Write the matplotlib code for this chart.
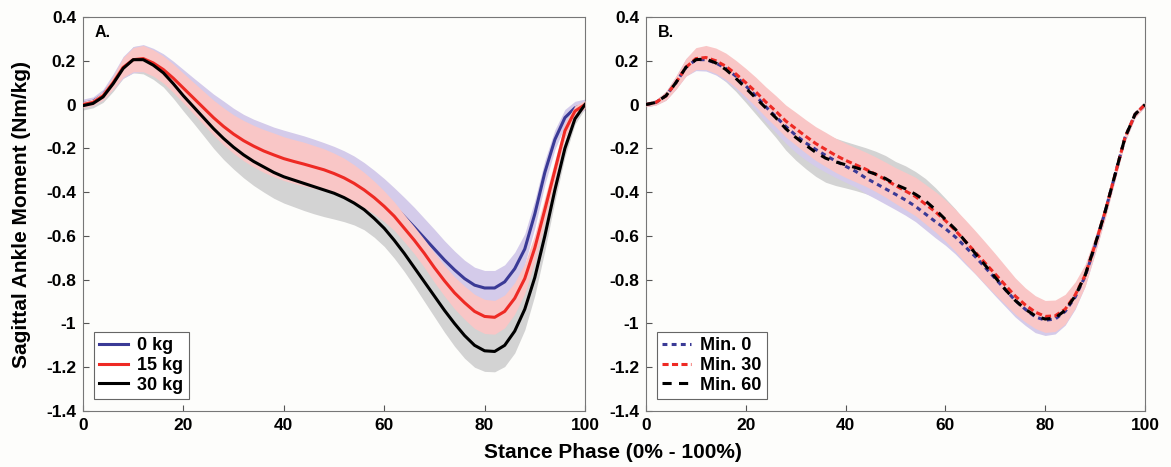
import numpy as np
import matplotlib
matplotlib.use("Agg")
import matplotlib.pyplot as plt
from matplotlib.lines import Line2D

plt.rcParams['font.family'] = ['Liberation Sans', 'DejaVu Sans']
plt.rcParams['font.weight'] = 'bold'

# ---- data ----
stance = list(range(0, 101, 2))

# Panel A: load conditions (mean)
kg0_mean = [0.005, 0.015, 0.045, 0.105, 0.17, 0.205, 0.212, 0.195, 0.17, 0.135,
            0.095, 0.055, 0.015, -0.025, -0.06, -0.095, -0.125, -0.15, -0.17, -0.19,
            -0.205, -0.218, -0.23, -0.243, -0.257, -0.273, -0.292, -0.315, -0.345, -0.38,
            -0.42, -0.465, -0.512, -0.56, -0.61, -0.66, -0.71, -0.755, -0.795, -0.825,
            -0.838, -0.838, -0.81, -0.75, -0.66, -0.5, -0.31, -0.16, -0.06, -0.015, 0.0]
kg15_mean = [0.0, 0.01, 0.04, 0.1, 0.17, 0.205, 0.21, 0.19, 0.16, 0.12,
             0.075, 0.03, -0.015, -0.06, -0.1, -0.135, -0.165, -0.19, -0.212, -0.23,
             -0.247, -0.26, -0.272, -0.285, -0.298, -0.315, -0.335, -0.36, -0.39, -0.425,
             -0.465, -0.51, -0.565, -0.62, -0.68, -0.745, -0.805, -0.86, -0.905, -0.945,
             -0.968, -0.972, -0.945, -0.885, -0.795, -0.655, -0.48, -0.3, -0.12, -0.03, 0.0]
kg30_mean = [-0.005, 0.005, 0.035, 0.095, 0.165, 0.205, 0.205, 0.18, 0.145, 0.095,
             0.04, -0.01, -0.06, -0.11, -0.155, -0.195, -0.23, -0.26, -0.285, -0.31,
             -0.33, -0.345, -0.36, -0.375, -0.39, -0.405, -0.425, -0.45, -0.48, -0.52,
             -0.565, -0.62, -0.68, -0.745, -0.81, -0.875, -0.94, -1.0, -1.055, -1.1,
             -1.125, -1.128, -1.1, -1.035, -0.935, -0.79, -0.6, -0.39, -0.2, -0.065, 0.0]
kg0_sd = [0.02, 0.02, 0.025, 0.035, 0.05, 0.06, 0.062, 0.062, 0.062, 0.063,
          0.065, 0.067, 0.07, 0.073, 0.076, 0.078, 0.08, 0.083, 0.085, 0.087,
          0.088, 0.088, 0.087, 0.085, 0.083, 0.082, 0.081, 0.08, 0.08, 0.08,
          0.082, 0.085, 0.088, 0.09, 0.09, 0.09, 0.088, 0.086, 0.084, 0.082,
          0.08, 0.08, 0.078, 0.075, 0.07, 0.063, 0.055, 0.045, 0.038, 0.03, 0.025]
kg15_sd = [0.015, 0.015, 0.02, 0.03, 0.045, 0.055, 0.06, 0.06, 0.062, 0.065,
           0.068, 0.072, 0.076, 0.08, 0.085, 0.088, 0.092, 0.095, 0.098, 0.1,
           0.1, 0.1, 0.1, 0.098, 0.096, 0.093, 0.09, 0.085, 0.08, 0.075,
           0.07, 0.065, 0.062, 0.062, 0.064, 0.067, 0.07, 0.073, 0.076, 0.078,
           0.078, 0.077, 0.075, 0.072, 0.068, 0.062, 0.055, 0.045, 0.035, 0.025, 0.018]
kg30_sd = [0.02, 0.02, 0.025, 0.035, 0.045, 0.06, 0.065, 0.065, 0.065, 0.067,
           0.07, 0.075, 0.082, 0.09, 0.096, 0.1, 0.105, 0.11, 0.115, 0.118,
           0.12, 0.122, 0.124, 0.124, 0.122, 0.118, 0.11, 0.1, 0.092, 0.086,
           0.083, 0.082, 0.083, 0.085, 0.09, 0.095, 0.1, 0.104, 0.104, 0.1,
           0.094, 0.093, 0.097, 0.1, 0.095, 0.082, 0.068, 0.052, 0.038, 0.025, 0.018]

# Panel B: time conditions (mean)
min0_mean = [0.0, 0.01, 0.04, 0.1, 0.17, 0.205, 0.205, 0.19, 0.165, 0.13,
             0.085, 0.04, -0.01, -0.055, -0.1, -0.14, -0.175, -0.205, -0.232, -0.258,
             -0.282, -0.305, -0.335, -0.36, -0.385, -0.41, -0.436, -0.465, -0.5, -0.535,
             -0.567, -0.605, -0.65, -0.695, -0.745, -0.795, -0.845, -0.895, -0.935, -0.97,
             -0.985, -0.98, -0.945, -0.88, -0.785, -0.645, -0.49, -0.32, -0.15, -0.045, 0.0]
min30_mean = [0.0, 0.01, 0.04, 0.1, 0.17, 0.21, 0.215, 0.2, 0.175, 0.14,
              0.1, 0.058, 0.012, -0.03, -0.075, -0.11, -0.145, -0.178, -0.205, -0.232,
              -0.255, -0.275, -0.295, -0.318, -0.343, -0.37, -0.395, -0.42, -0.455, -0.49,
              -0.53, -0.575, -0.625, -0.675, -0.725, -0.775, -0.825, -0.875, -0.915, -0.948,
              -0.968, -0.965, -0.935, -0.87, -0.78, -0.64, -0.49, -0.32, -0.15, -0.045, 0.0]
min60_mean = [0.0, 0.01, 0.04, 0.1, 0.17, 0.205, 0.208, 0.19, 0.16, 0.12,
              0.075, 0.03, -0.015, -0.06, -0.11, -0.15, -0.185, -0.218, -0.245, -0.262,
              -0.275, -0.288, -0.302, -0.318, -0.338, -0.365, -0.385, -0.41, -0.44, -0.48,
              -0.525, -0.57, -0.625, -0.68, -0.735, -0.79, -0.845, -0.895, -0.935, -0.965,
              -0.98, -0.975, -0.94, -0.875, -0.78, -0.64, -0.49, -0.32, -0.15, -0.045, 0.0]
min0_sd = [0.01, 0.012, 0.02, 0.03, 0.04, 0.05, 0.052, 0.055, 0.058, 0.06,
           0.063, 0.066, 0.07, 0.073, 0.076, 0.078, 0.078, 0.078, 0.077, 0.075,
           0.073, 0.072, 0.071, 0.07, 0.07, 0.07, 0.07, 0.07, 0.072, 0.074,
           0.076, 0.078, 0.08, 0.08, 0.08, 0.08, 0.078, 0.076, 0.074, 0.072,
           0.07, 0.068, 0.063, 0.055, 0.045, 0.036, 0.03, 0.025, 0.02, 0.015, 0.01]
min30_sd = [0.01, 0.012, 0.02, 0.03, 0.04, 0.05, 0.055, 0.058, 0.06, 0.062,
            0.065, 0.067, 0.069, 0.071, 0.073, 0.075, 0.076, 0.077, 0.078, 0.078,
            0.078, 0.078, 0.078, 0.079, 0.08, 0.082, 0.085, 0.088, 0.09, 0.092,
            0.094, 0.096, 0.098, 0.098, 0.096, 0.093, 0.088, 0.083, 0.078, 0.075,
            0.073, 0.072, 0.068, 0.06, 0.05, 0.04, 0.032, 0.026, 0.02, 0.015, 0.01]
min60_sd = [0.01, 0.012, 0.02, 0.028, 0.036, 0.042, 0.048, 0.052, 0.056, 0.06,
            0.066, 0.074, 0.082, 0.09, 0.098, 0.104, 0.108, 0.11, 0.11, 0.108,
            0.106, 0.105, 0.105, 0.105, 0.105, 0.105, 0.105, 0.104, 0.102, 0.1,
            0.097, 0.093, 0.088, 0.083, 0.078, 0.073, 0.068, 0.064, 0.06, 0.057,
            0.055, 0.053, 0.05, 0.045, 0.038, 0.032, 0.027, 0.022, 0.018, 0.014, 0.01]

legend_a = ['0 kg', '15 kg', '30 kg']
legend_b = ['Min. 0', 'Min. 30', 'Min. 60']
xticks = [0, 20, 40, 60, 80, 100]
yticks = [0.4, 0.2, 0, -0.2, -0.4, -0.6, -0.8, -1, -1.2, -1.4]
ytick_labels = ['0.4', '0.2', '0', '-0.2', '-0.4', '-0.6', '-0.8', '-1', '-1.2', '-1.4']

for arr in (kg0_mean, kg15_mean, kg30_mean, kg0_sd, kg15_sd, kg30_sd,
            min0_mean, min30_mean, min60_mean, min0_sd, min30_sd, min60_sd):
    assert len(arr) == len(stance), len(arr)

# ---- styles ----
BLUE = '#3a3a96'
RED = '#ee2a24'
BLACK = '#000000'
PURPLE_BAND = '#d4cbea'
PINK_BAND = '#f9c6c6'
GRAY_BAND = '#d3d3d3'
BG = '#fdfdfb'

x = np.array(stance)

fig = plt.figure(figsize=(11.71, 4.67), dpi=100, facecolor=BG)
axA = fig.add_axes([83 / 1171, 56 / 467, 502 / 1171, 394 / 467], facecolor=BG)
axB = fig.add_axes([646 / 1171, 56 / 467, 499 / 1171, 394 / 467], facecolor=BG)


def band(ax, m, s, color, z):
    m = np.array(m); s = np.array(s)
    ax.fill_between(x, m - s, m + s, color=color, lw=0, zorder=z)


# Panel A
band(axA, kg30_mean, kg30_sd, GRAY_BAND, 1)
band(axA, kg0_mean, kg0_sd, PURPLE_BAND, 2)
axA.plot(x, kg0_mean, color=BLUE, lw=2.2, zorder=3)
band(axA, kg15_mean, kg15_sd, PINK_BAND, 4)
axA.plot(x, kg15_mean, color=RED, lw=2.2, zorder=5)
axA.plot(x, kg30_mean, color=BLACK, lw=2.2, zorder=6)

# Panel B
band(axB, min60_mean, min60_sd, GRAY_BAND, 1)
band(axB, min0_mean, min0_sd, PURPLE_BAND, 2)
band(axB, min30_mean, min30_sd, PINK_BAND, 3)
dash0 = (0, (1.6, 1.4))
dash30 = (0, (2.0, 1.1))
dash60 = (0, (3.0, 2.4))
axB.plot(x, min0_mean, color=BLUE, lw=2.2, ls=dash0, zorder=4)
axB.plot(x, min30_mean, color=RED, lw=2.2, ls=dash30, zorder=5)
axB.plot(x, min60_mean, color=BLACK, lw=2.2, ls=dash60, zorder=6)

for ax, lab in ((axA, 'A.'), (axB, 'B.')):
    ax.set_xlim(0, 100)
    ax.set_ylim(-1.4, 0.4)
    ax.set_xticks(xticks)
    ax.set_xticklabels([str(t) for t in xticks], fontsize=12.5, fontweight='bold')
    ax.set_yticks(yticks)
    ax.set_yticklabels(ytick_labels, fontsize=12.5, fontweight='bold')
    ax.tick_params(direction='in', length=4, width=0.8, color='#555555', pad=5)
    for sp in ax.spines.values():
        sp.set_color('#777777')
        sp.set_linewidth(0.8)
    ax.text(0.023, 0.98, lab, transform=ax.transAxes, fontsize=11.5, fontweight='bold',
            ha='left', va='top')

hA = [Line2D([], [], color=BLUE, lw=2.2), Line2D([], [], color=RED, lw=2.2),
      Line2D([], [], color=BLACK, lw=2.2)]
hB = [Line2D([], [], color=BLUE, lw=2.2, ls=dash0), Line2D([], [], color=RED, lw=2.2, ls=dash30),
      Line2D([], [], color=BLACK, lw=2.2, ls=dash60)]
for ax, h, labs in ((axA, hA, legend_a), (axB, hB, legend_b)):
    leg = ax.legend(h, labs, loc='lower left', bbox_to_anchor=(0.022, 0.03), borderaxespad=0,
                    prop={'size': 13, 'weight': 'bold'}, handlelength=1.6, handletextpad=0.5,
                    labelspacing=0.15, borderpad=0.3, fancybox=False, framealpha=1,
                    edgecolor='#666666', facecolor='white')
    leg.get_frame().set_linewidth(0.8)

fig.text(22 / 1171, 1 - 215 / 467, 'Sagittal Ankle Moment (Nm/kg)', rotation=90, ha='center',
         va='center', fontsize=15, fontweight='bold')
fig.text(613 / 1171, 1 - 453 / 467, 'Stance Phase (0% - 100%)', ha='center', va='center',
         fontsize=15, fontweight='bold')

fig.savefig('out.png', dpi=100, facecolor=BG)
